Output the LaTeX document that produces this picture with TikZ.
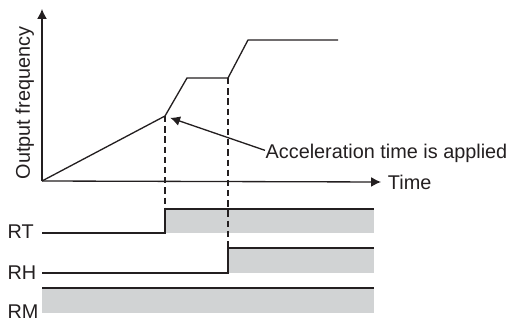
\documentclass[tikz,border=0pt]{standalone}
\usepackage{fontspec}
\setmainfont{Liberation Sans}
\usetikzlibrary{arrows.meta,positioning}
\definecolor{SignalFill}{HTML}{D1D3D4}
\definecolor{LineDark}{HTML}{231F20}

\begin{document}
\begin{tikzpicture}[
    >={Latex[length=5.6pt,width=5.6pt]},
    x=0.02cm, y=-0.02cm,
    line width=0.75pt, draw=LineDark,
    lbl/.style={inner sep=0pt, text=LineDark, font=\fontsize{11.3}{13}\selectfont},
    guide/.style={line width=0.65pt, dash pattern=on 3.6pt off 2.2pt},
    high/.style={fill=SignalFill, draw=none}
  ]
  \useasboundingbox (0,0) rectangle (509,320);

  % axes
  \coordinate (origin) at (42,181);
  \coordinate (ytop) at (42,9);
  \node[lbl, anchor=west, inner xsep=3.6pt] (time) at (381,182) {Time};
  \node[lbl, rotate=90, anchor=base] (ylabel) at (30,103) {Output frequency};
  \draw[->] (origin) -- (ytop);
  \draw[->] (origin) -- (time.west);

  % output frequency
  \coordinate (p1) at (165,116);
  \coordinate (p2) at (187,78);
  \coordinate (p3) at (228,78);
  \coordinate (p4) at (248,40);
  \coordinate (p5) at (338,40);
  \draw (origin) -- (p1) -- (p2) -- (p3) -- (p4) -- (p5);

  \node[lbl, anchor=base west] (accel) at (265,159) {Acceleration time is applied};
  \draw[->, shorten >=0.11cm] ([yshift=2pt]accel.west) -- (p1);

  % signals
  \coordinate (rtLow) at (42,233);
  \coordinate (rtUp) at (165,209);
  \coordinate (rhLow) at (42,273);
  \coordinate (rhUp) at (228,248);
  \coordinate (rmTop) at (42,288);
  \coordinate (rightEnd) at (374,0);

  \node[lbl, anchor=base west] (rt) at (7,238) {RT};
  \node[lbl, anchor=base west] (rh) at (7,279) {RH};
  \node[lbl, anchor=base west] (rm) at (7,318) {RM};

  \fill[high] (rtUp) rectangle (rightEnd |- rtLow);
  \fill[high] (rhUp) rectangle (rightEnd |- rhLow);
  \fill[high] (rmTop) rectangle (374,313);

  \draw (rtLow) -- (rtLow -| rtUp) -- (rtUp) -- (rtUp -| rightEnd);
  \draw (rhLow) -- (rhLow -| rhUp) -- (rhUp) -- (rhUp -| rightEnd);
  \draw (rmTop) -- (rmTop -| rightEnd);

  \draw[guide] (p1) -- (rtUp);
  \draw[guide] (p3) -- (rhUp);
\end{tikzpicture}
\end{document}
